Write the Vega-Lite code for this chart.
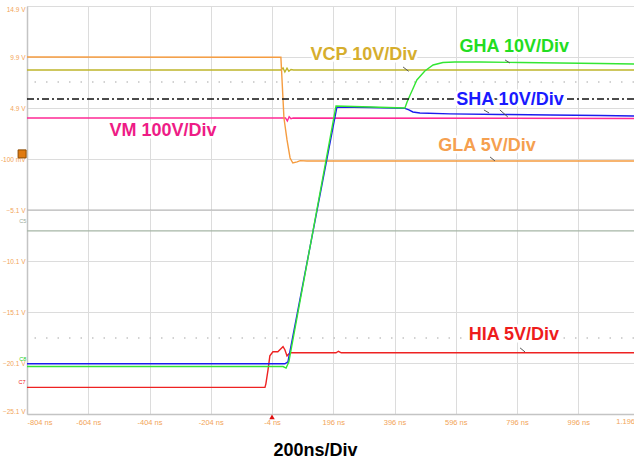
{
  "$schema": "https://vega.github.io/schema/vega-lite/v6.json",
  "width": 607,
  "height": 408,
  "autosize": {"type": "none"},
  "padding": {"left": 27, "top": 6, "right": 0, "bottom": 49},
  "background": "white",
  "config": {"view": {"stroke": null}, "font": "Liberation Sans"},
  "datasets": {
    "traces": [
      {"s": "C5", "t": -804, "v": -7.15}, {"s": "C5", "t": 1178, "v": -7.15},
      {"s": "VCP", "t": -804, "v": 8.63}, {"s": "VCP", "t": 25, "v": 8.63}, {"s": "VCP", "t": 32, "v": 8.82}, {"s": "VCP", "t": 38, "v": 8.43}, {"s": "VCP", "t": 45, "v": 8.8}, {"s": "VCP", "t": 51, "v": 8.5}, {"s": "VCP", "t": 58, "v": 8.68}, {"s": "VCP", "t": 66, "v": 8.63}, {"s": "VCP", "t": 1178, "v": 8.63},
      {"s": "VM", "t": -804, "v": 3.92}, {"s": "VM", "t": 40, "v": 3.92}, {"s": "VM", "t": 46, "v": 3.63}, {"s": "VM", "t": 52, "v": 4.05}, {"s": "VM", "t": 58, "v": 3.85}, {"s": "VM", "t": 65, "v": 3.92}, {"s": "VM", "t": 1178, "v": 3.87},
      {"s": "GLA", "t": -804, "v": 9.9}, {"s": "GLA", "t": 25, "v": 9.88}, {"s": "GLA", "t": 35, "v": 3.92}, {"s": "GLA", "t": 45, "v": 1.77}, {"s": "GLA", "t": 55, "v": 0.0}, {"s": "GLA", "t": 64, "v": -0.49}, {"s": "GLA", "t": 78, "v": -0.39}, {"s": "GLA", "t": 88, "v": -0.26}, {"s": "GLA", "t": 110, "v": -0.3}, {"s": "GLA", "t": 600, "v": -0.29}, {"s": "GLA", "t": 1178, "v": -0.29},
      {"s": "HIA", "t": -804, "v": -22.49}, {"s": "HIA", "t": -27, "v": -22.49}, {"s": "HIA", "t": -24, "v": -22.14}, {"s": "HIA", "t": -17, "v": -20.77}, {"s": "HIA", "t": -11, "v": -19.4}, {"s": "HIA", "t": -1, "v": -19.0}, {"s": "HIA", "t": 15, "v": -19.0}, {"s": "HIA", "t": 25, "v": -18.7}, {"s": "HIA", "t": 32, "v": -18.5}, {"s": "HIA", "t": 38, "v": -18.8}, {"s": "HIA", "t": 45, "v": -19.4}, {"s": "HIA", "t": 55, "v": -19.1}, {"s": "HIA", "t": 205, "v": -19.1}, {"s": "HIA", "t": 213, "v": -18.95}, {"s": "HIA", "t": 222, "v": -19.1}, {"s": "HIA", "t": 1178, "v": -19.1},
      {"s": "SHA", "t": -804, "v": -20.18}, {"s": "SHA", "t": 38, "v": -20.18}, {"s": "SHA", "t": 48, "v": -19.99}, {"s": "SHA", "t": 208, "v": 5.0}, {"s": "SHA", "t": 316, "v": 4.95}, {"s": "SHA", "t": 430, "v": 4.86}, {"s": "SHA", "t": 443, "v": 4.71}, {"s": "SHA", "t": 456, "v": 4.51}, {"s": "SHA", "t": 479, "v": 4.41}, {"s": "SHA", "t": 577, "v": 4.32}, {"s": "SHA", "t": 740, "v": 4.27}, {"s": "SHA", "t": 904, "v": 4.22}, {"s": "SHA", "t": 1067, "v": 4.17}, {"s": "SHA", "t": 1178, "v": 4.12},
      {"s": "GHA", "t": -804, "v": -20.45}, {"s": "GHA", "t": 32, "v": -20.45}, {"s": "GHA", "t": 42, "v": -20.6}, {"s": "GHA", "t": 51, "v": -19.99}, {"s": "GHA", "t": 205, "v": 5.1}, {"s": "GHA", "t": 320, "v": 5.0}, {"s": "GHA", "t": 430, "v": 4.9}, {"s": "GHA", "t": 437, "v": 5.49}, {"s": "GHA", "t": 447, "v": 6.18}, {"s": "GHA", "t": 469, "v": 7.65}, {"s": "GHA", "t": 495, "v": 8.53}, {"s": "GHA", "t": 522, "v": 9.12}, {"s": "GHA", "t": 554, "v": 9.36}, {"s": "GHA", "t": 593, "v": 9.41}, {"s": "GHA", "t": 675, "v": 9.41}, {"s": "GHA", "t": 806, "v": 9.36}, {"s": "GHA", "t": 936, "v": 9.31}, {"s": "GHA", "t": 1067, "v": 9.26}, {"s": "GHA", "t": 1178, "v": 9.22}
    ],
    "hlines": [
      {"k": "dots", "v": 7.45}, {"k": "dots", "v": -17.64}
    ],
    "center": [{"v": -5.1}],
    "cursor": [{"v": 5.78}],
    "leaders": [
      {"t": 424, "t2": 442, "v": 8.92, "v2": 8.5},
      {"t": 757, "t2": 773, "v": 9.61, "v2": 9.31},
      {"t": 688, "t2": 705, "v": 4.71, "v2": 4.41},
      {"t": 740, "t2": 766, "v": 4.71, "v2": 4.02},
      {"t": 708, "t2": 724, "v": 0.1, "v2": -0.29},
      {"t": 806, "t2": 822, "v": -18.62, "v2": -19.01}
    ],
    "labels": [
      {"s": "VCP", "text": "VCP 10V/Div", "t": 296, "v": 10.1},
      {"s": "GHA", "text": "GHA 10V/Div", "t": 787, "v": 10.88},
      {"s": "SHA", "text": "SHA 10V/Div", "t": 773, "v": 5.69},
      {"s": "VM", "text": "VM 100V/Div", "t": -360, "v": 2.65},
      {"s": "GLA", "text": "GLA 5V/Div", "t": 698, "v": 1.18},
      {"s": "HIA", "text": "HIA 5V/Div", "t": 786, "v": -17.34}
    ],
    "tags": [
      {"s": "C5", "text": "C5", "t": -818, "v": -6.17},
      {"s": "GHA", "text": "C8", "t": -818, "v": -19.75},
      {"s": "HIA", "text": "C7", "t": -820, "v": -22.0}
    ],
    "edge": [{"text": "1.196 µ", "t": 1120, "v": -25.1}],
    "marker": [{"t": -820, "v": 0.4}],
    "trigger": [{"t": -4, "v": -25.38}]
  },
  "layer": [
    {
      "data": {"name": "hlines"},
      "mark": {"type": "rule", "color": "#c4c4c4", "strokeWidth": 1.5, "strokeDash": [1.5, 10]},
      "encoding": {
        "y": {
          "field": "v", "type": "quantitative",
          "scale": {"domain": [-25.1, 14.9], "nice": false, "zero": false},
          "axis": {
            "values": [14.9, 9.9, 4.9, -0.1, -5.1, -10.1, -15.1, -20.1, -25.1],
            "labelExpr": "abs(datum.value + 0.1) < 0.01 ? '-100 mV' : format(datum.value, '.1f') + ' V'",
            "grid": true, "gridColor": "#dcdcdc", "gridWidth": 1,
            "domainColor": "#c4c4c4", "domainWidth": 1.5,
            "ticks": false, "labelPadding": 2, "labelFlush": true,
            "labelColor": "#f2a457", "labelFontSize": 6.5, "title": null
          }
        }
      }
    },
    {
      "data": {"name": "center"},
      "mark": {"type": "rule", "color": "#b4b4b4", "strokeWidth": 1},
      "encoding": {"y": {"field": "v", "type": "quantitative"}}
    },
    {
      "data": {"name": "traces"},
      "mark": {"type": "line", "strokeWidth": 1.4, "interpolate": "linear"},
      "encoding": {
        "x": {
          "field": "t", "type": "quantitative",
          "scale": {"domain": [-804, 1178], "nice": false, "zero": false},
          "axis": {
            "values": [-804, -604, -404, -204, -4, 196, 396, 596, 796, 996],
            "labelExpr": "datum.value + ' ns'",
            "grid": true, "gridColor": "#dcdcdc", "gridWidth": 1,
            "domainColor": "#c4c4c4", "domainWidth": 1.5,
            "ticks": false, "labelPadding": 4, "labelFlush": true,
            "labelColor": "#f2a457", "labelFontSize": 7.5,
            "title": "200ns/Div", "titleFontSize": 18, "titleFontWeight": "bold",
            "titleColor": "#000000", "titleX": 288, "titleY": 36,
            "titleAlign": "center", "titleBaseline": "middle", "titleAnchor": null
          }
        },
        "y": {"field": "v", "type": "quantitative"},
        "stroke": {
          "field": "s", "type": "nominal",
          "scale": {
            "domain": ["C5", "VCP", "VM", "GLA", "HIA", "SHA", "GHA"],
            "range": ["#a6b6a6", "#bfb52a", "#ff2a95", "#f59c40", "#ee2222", "#1c1cee", "#33e633"]
          },
          "legend": null
        },
        "order": {"field": "t", "type": "quantitative"}
      }
    },
    {
      "data": {"name": "cursor"},
      "mark": {"type": "rule", "color": "#111111", "strokeWidth": 1.5, "strokeDash": [7, 3, 2, 3]},
      "encoding": {"y": {"field": "v", "type": "quantitative"}}
    },
    {
      "data": {"name": "leaders"},
      "mark": {"type": "rule", "color": "#555555", "strokeWidth": 1},
      "encoding": {
        "x": {"field": "t", "type": "quantitative"},
        "x2": {"field": "t2"},
        "y": {"field": "v", "type": "quantitative"},
        "y2": {"field": "v2"}
      }
    },
    {
      "data": {"name": "labels"},
      "mark": {"type": "text", "fontSize": 18, "fontWeight": "bold", "align": "center", "baseline": "middle", "font": "Liberation Sans", "fill": "white", "stroke": "white", "strokeWidth": 5},
      "encoding": {
        "x": {"field": "t", "type": "quantitative"},
        "y": {"field": "v", "type": "quantitative"},
        "text": {"field": "text"}
      }
    },
    {
      "data": {"name": "labels"},
      "mark": {"type": "text", "fontSize": 18, "fontWeight": "bold", "align": "center", "baseline": "middle", "font": "Liberation Sans"},
      "encoding": {
        "x": {"field": "t", "type": "quantitative"},
        "y": {"field": "v", "type": "quantitative"},
        "text": {"field": "text"},
        "fill": {
          "field": "s", "type": "nominal",
          "scale": {
            "domain": ["VCP", "GHA", "SHA", "VM", "GLA", "HIA"],
            "range": ["#d6ae2e", "#22dd22", "#1a1aff", "#ee1c86", "#f5a050", "#ee1c1c"]
          },
          "legend": null
        }
      }
    },
    {
      "data": {"name": "tags"},
      "mark": {"type": "text", "fontSize": 5.5, "align": "center", "baseline": "middle"},
      "encoding": {
        "x": {"field": "t", "type": "quantitative"},
        "y": {"field": "v", "type": "quantitative"},
        "text": {"field": "text"},
        "color": {
          "field": "s", "type": "nominal",
          "scale": {"domain": ["C5", "GHA", "HIA"], "range": ["#9aaa9a", "#22cc22", "#ee2222"]},
          "legend": null
        }
      }
    },
    {
      "data": {"name": "edge"},
      "mark": {"type": "text", "fontSize": 7.5, "align": "left", "baseline": "top", "dy": 4, "color": "#f2a457"},
      "encoding": {
        "x": {"field": "t", "type": "quantitative"},
        "y": {"field": "v", "type": "quantitative"},
        "text": {"field": "text"}
      }
    },
    {
      "data": {"name": "marker"},
      "mark": {"type": "point", "shape": "square", "size": 64, "filled": true, "color": "#e07a10", "stroke": "#8a4a00", "strokeWidth": 1, "opacity": 1},
      "encoding": {
        "x": {"field": "t", "type": "quantitative"},
        "y": {"field": "v", "type": "quantitative"}
      }
    },
    {
      "data": {"name": "trigger"},
      "mark": {"type": "point", "shape": "triangle-up", "size": 30, "filled": true, "color": "#e01010", "opacity": 1},
      "encoding": {
        "x": {"field": "t", "type": "quantitative"},
        "y": {"field": "v", "type": "quantitative"}
      }
    }
  ]
}
